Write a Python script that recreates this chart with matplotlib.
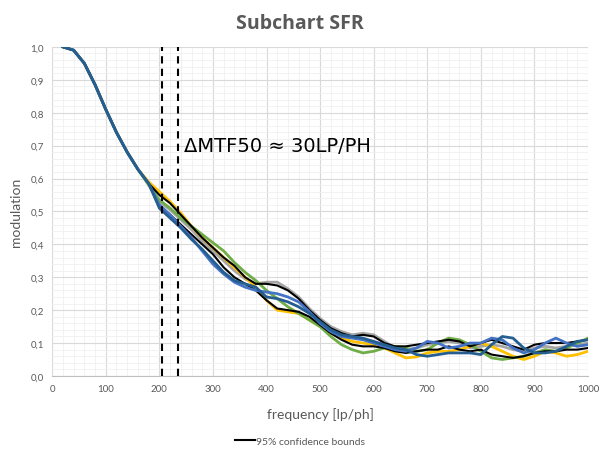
import numpy as np
import matplotlib.pyplot as plt
from matplotlib.ticker import MultipleLocator, FuncFormatter

plt.rcParams["font.family"] = ["Lato", "DejaVu Sans"]

freq = np.arange(20, 1001, 20)
early = [1.0, 0.99, 0.95, 0.885, 0.81, 0.74, 0.68, 0.628, 0.585]

yellow = early[:-1] + [0.59,
    0.56, 0.53, 0.495, 0.455, 0.42, 0.39, 0.36, 0.33, 0.30, 0.27,
    0.23, 0.20, 0.195, 0.19, 0.17, 0.15, 0.13, 0.115, 0.105, 0.10,
    0.095, 0.085, 0.07, 0.055, 0.058, 0.07, 0.075, 0.075, 0.08, 0.09,
    0.10, 0.09, 0.075, 0.06, 0.05, 0.06, 0.075, 0.07, 0.06, 0.065, 0.075]
black_up = early + [
    0.55, 0.525, 0.49, 0.455, 0.42, 0.39, 0.36, 0.335, 0.30, 0.28,
    0.28, 0.275, 0.26, 0.235, 0.20, 0.17, 0.145, 0.13, 0.12, 0.125,
    0.12, 0.10, 0.09, 0.09, 0.095, 0.10, 0.105, 0.11, 0.105, 0.09,
    0.10, 0.11, 0.10, 0.09, 0.08, 0.095, 0.10, 0.10, 0.10, 0.105, 0.11]
black_lo = early + [
    0.515, 0.49, 0.46, 0.43, 0.40, 0.37, 0.33, 0.30, 0.28, 0.26,
    0.23, 0.205, 0.20, 0.195, 0.18, 0.155, 0.13, 0.11, 0.095, 0.09,
    0.09, 0.085, 0.075, 0.07, 0.075, 0.08, 0.08, 0.09, 0.08, 0.075,
    0.08, 0.065, 0.06, 0.055, 0.06, 0.07, 0.075, 0.075, 0.08, 0.08, 0.085]
grey = early + [
    0.53, 0.505, 0.475, 0.445, 0.41, 0.38, 0.35, 0.32, 0.295, 0.28,
    0.285, 0.285, 0.265, 0.24, 0.205, 0.175, 0.15, 0.135, 0.125, 0.13,
    0.125, 0.105, 0.085, 0.08, 0.085, 0.095, 0.10, 0.105, 0.10, 0.085,
    0.09, 0.095, 0.09, 0.08, 0.075, 0.085, 0.09, 0.085, 0.09, 0.095, 0.10]
green = early[:-1] + [0.58,
    0.535, 0.51, 0.48, 0.455, 0.43, 0.405, 0.38, 0.345, 0.315, 0.29,
    0.26, 0.235, 0.21, 0.19, 0.17, 0.15, 0.12, 0.095, 0.08, 0.07,
    0.075, 0.085, 0.09, 0.085, 0.075, 0.08, 0.10, 0.115, 0.11, 0.095,
    0.075, 0.055, 0.05, 0.055, 0.06, 0.07, 0.08, 0.075, 0.085, 0.10, 0.115]
blue = early + [
    0.52, 0.49, 0.455, 0.42, 0.38, 0.34, 0.31, 0.285, 0.27, 0.26,
    0.255, 0.25, 0.24, 0.225, 0.195, 0.16, 0.135, 0.12, 0.115, 0.11,
    0.10, 0.09, 0.08, 0.075, 0.085, 0.105, 0.10, 0.085, 0.09, 0.10,
    0.10, 0.115, 0.11, 0.085, 0.07, 0.08, 0.10, 0.115, 0.10, 0.09, 0.095]
dark_blue = early + [
    0.51, 0.48, 0.45, 0.415, 0.385, 0.35, 0.315, 0.29, 0.28, 0.27,
    0.24, 0.235, 0.225, 0.21, 0.19, 0.165, 0.14, 0.125, 0.12, 0.115,
    0.105, 0.095, 0.085, 0.08, 0.065, 0.06, 0.065, 0.07, 0.07, 0.07,
    0.065, 0.095, 0.12, 0.115, 0.085, 0.07, 0.07, 0.075, 0.09, 0.105, 0.11]

mtf50_lines = [205, 235]

fig = plt.figure(figsize=(6, 4.52), dpi=100)
ax = fig.add_axes([0.087, 0.166, 0.893, 0.728])

ax.plot(freq, grey, color='#A5A5A5', lw=2, solid_joinstyle='round')
ax.plot(freq, yellow, color='#FFC000', lw=2, solid_joinstyle='round')
ax.plot(freq, green, color='#70AD47', lw=2, solid_joinstyle='round')
ax.plot(freq, black_up, color='black', lw=1.5, label='95% confidence bounds')
ax.plot(freq, black_lo, color='black', lw=1.5)
ax.plot(freq, blue, color='#4472C4', lw=2, solid_joinstyle='round')
ax.plot(freq, dark_blue, color='#255E91', lw=2, solid_joinstyle='round')

for x in mtf50_lines:
    ax.axvline(x, color='black', ls=(0, (3.5, 2.5)), lw=1.5, zorder=5)

ax.text(246, 0.70, 'ΔMTF50 ≈ 30LP/PH', fontsize=14, color='black', va='center',
        family=['DejaVu Sans'])

ax.set_xlim(0, 1000)
ax.set_ylim(0, 1.0)
ax.xaxis.set_major_locator(MultipleLocator(100))
ax.xaxis.set_minor_locator(MultipleLocator(20))
ax.yaxis.set_major_locator(MultipleLocator(0.1))
ax.yaxis.set_minor_locator(MultipleLocator(0.02))
ax.yaxis.set_major_formatter(FuncFormatter(lambda v, p: f'{v:.1f}'.replace('.', ',')))
ax.grid(which='major', color='#D9D9D9', lw=0.8)
ax.grid(which='minor', color='#F0F0F0', lw=0.6)
ax.set_axisbelow(True)
ax.tick_params(which='both', length=0, labelsize=7, labelcolor='#595959', pad=6)
for s in ['top', 'right', 'left']:
    ax.spines[s].set_visible(False)
ax.spines['bottom'].set_color('#BFBFBF')

ax.set_xlabel('frequency [lp/ph]', fontsize=10, color='#595959', labelpad=10)
ax.set_ylabel('modulation', fontsize=10, color='#595959', labelpad=6)
fig.suptitle('Subchart SFR', fontsize=14, fontweight='bold', color='#595959', y=0.97,
             family=['Open Sans', 'DejaVu Sans'])

fig.legend(loc='center', bbox_to_anchor=(0.5, 0.022), frameon=False, fontsize=7.5,
           handlelength=2, handletextpad=0.1, labelcolor='#595959')

fig.savefig('out.png', dpi=100)
